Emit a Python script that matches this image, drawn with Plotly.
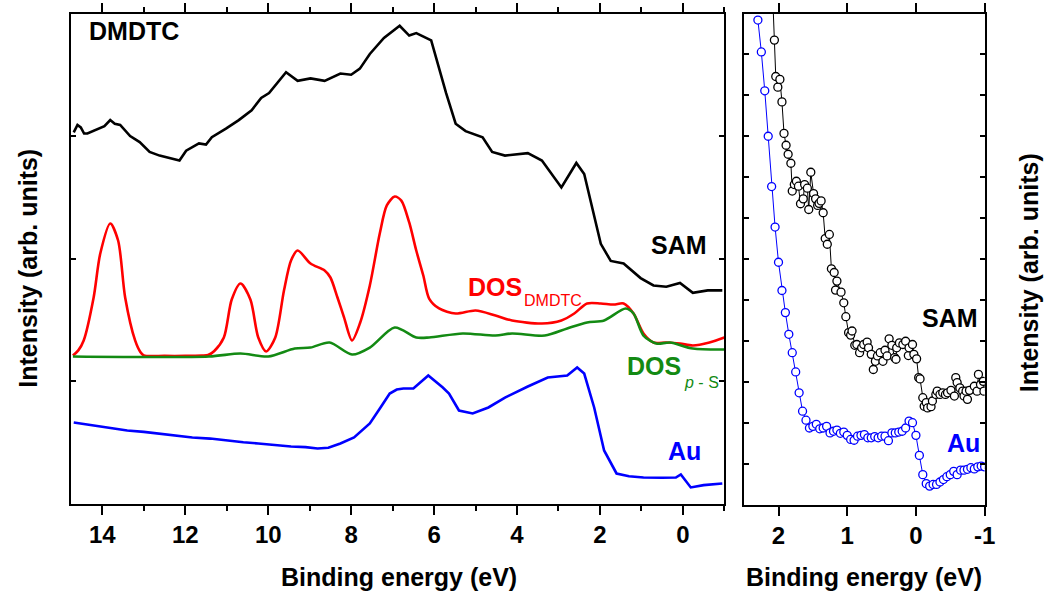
import plotly.graph_objects as go

# ---------------- Left panel data (binding energy in eV, intensity arb.) ----------------
sam_x = [14.69, 14.60, 14.52, 14.44, 14.36, 14.10, 13.95, 13.81, 13.70, 13.57, 13.33, 13.10, 12.86,
         12.62, 12.40, 12.14, 11.98, 11.67, 11.50, 11.36, 11.02, 10.71, 10.40, 10.17, 9.98, 9.83,
         9.57, 9.29, 8.98, 8.64, 8.26, 8.00, 7.79, 7.55, 7.21, 6.83, 6.60, 6.43, 6.25, 6.07, 5.71,
         5.48, 5.24, 4.83, 4.60, 4.29, 3.74, 3.40, 2.93, 2.57, 2.38, 1.98, 1.74, 1.43, 1.02, 0.71,
         0.40, 0.07, -0.24, -0.60, -0.95]
sam_y = [3.03, 3.09, 3.07, 3.02, 3.02, 3.06, 3.08, 3.13, 3.10, 3.09, 3.00, 2.95, 2.87,
         2.84, 2.82, 2.80, 2.88, 2.94, 2.93, 2.99, 3.06, 3.13, 3.21, 3.31, 3.35, 3.41,
         3.52, 3.45, 3.47, 3.45, 3.51, 3.50, 3.55, 3.67, 3.80, 3.90, 3.82, 3.84, 3.81, 3.78, 3.35,
         3.10, 3.04, 2.99, 2.87, 2.84, 2.86, 2.80, 2.58, 2.78, 2.69, 2.12, 1.98, 1.96, 1.84, 1.78,
         1.77, 1.80, 1.72, 1.74, 1.74]

dos_x = [14.71, 14.58, 14.45, 14.21, 14.05, 13.81, 13.62, 13.45, 13.21, 13.08, 13.00, 12.50,
         12.00, 11.60, 11.45, 11.30, 11.07, 10.88, 10.67, 10.43, 10.24, 10.05, 9.83, 9.62, 9.45,
         9.29, 8.98, 8.64, 8.50, 8.33, 8.17, 7.98, 7.79, 7.55, 7.31, 7.14, 6.95, 6.79, 6.60, 6.43,
         6.26, 6.12, 5.88, 5.48, 5.00, 4.52, 4.12, 3.40, 2.93, 2.62, 2.31, 1.98, 1.67, 1.43, 1.19,
         0.95, 0.71, 0.40, 0.07, -0.24, -0.64, -1.00]
dos_y = [1.208, 1.250, 1.331, 1.682, 2.041, 2.286, 2.147, 1.682, 1.331, 1.235, 1.208, 1.205,
         1.205, 1.208, 1.212, 1.245, 1.355, 1.665, 1.796, 1.665, 1.355, 1.241, 1.355, 1.739, 1.984,
         2.065, 1.959, 1.902, 1.845, 1.682, 1.518, 1.331, 1.469, 1.780, 2.204, 2.433, 2.506, 2.473, 2.294, 2.065,
         1.861, 1.673, 1.592, 1.551, 1.576, 1.535, 1.494, 1.469, 1.494, 1.551, 1.633, 1.633, 1.624, 1.633, 1.551,
         1.388, 1.314, 1.314, 1.306, 1.290, 1.314, 1.355]

dosp_x = [14.71, 11.43, 10.67, 10.00, 9.36, 8.98, 8.52, 7.98, 7.55, 6.95, 6.43, 6.12, 5.31,
          4.52, 4.12, 3.33, 2.79, 2.31, 1.90, 1.38, 1.19, 0.95, 0.64, 0.31, -0.24, -1.00]
dosp_y = [1.200, 1.200, 1.224, 1.200, 1.265, 1.273, 1.314, 1.216, 1.273, 1.437, 1.355, 1.355, 1.388,
          1.371, 1.388, 1.371, 1.429, 1.478, 1.494, 1.592, 1.551, 1.371, 1.306, 1.314, 1.265, 1.257]

au_x = [14.69, 14.45, 14.21, 13.80, 13.40, 13.00, 12.62, 12.20, 11.83, 11.40, 11.02, 10.60,
        10.24, 9.80, 9.45, 9.10, 8.81, 8.55, 8.26, 7.93, 7.55, 7.30, 7.07, 6.90, 6.74, 6.50,
        6.14, 5.79, 5.64, 5.40, 5.07, 4.69, 4.29, 3.74, 3.26, 2.79, 2.55, 2.38, 2.14, 1.90,
        1.60, 1.30, 0.95, 0.50, 0.17, 0.05, -0.19, -0.50, -0.95]
au_y = [0.661, 0.650, 0.637, 0.620, 0.596, 0.585, 0.571, 0.555, 0.539, 0.530, 0.514, 0.500,
        0.490, 0.475, 0.465, 0.460, 0.449, 0.455, 0.490, 0.539, 0.653, 0.780, 0.898, 0.930, 0.939, 0.939,
        1.045, 0.947, 0.898, 0.759, 0.735, 0.784, 0.865, 0.955, 1.029, 1.045, 1.110, 1.061, 0.784, 0.433,
        0.245, 0.222, 0.212, 0.210, 0.212, 0.237, 0.131, 0.150, 0.163]

# ---------------- Right panel data (zoom near Fermi level) ----------------
samz_x = [2.09, 2.06, 2.04, 2.01, 1.98, 1.95, 1.92, 1.89, 1.86, 1.82, 1.80, 1.77, 1.74, 1.71,
          1.68, 1.64, 1.62, 1.58, 1.56, 1.53, 1.49, 1.46, 1.43, 1.41, 1.38, 1.35, 1.32, 1.29,
          1.26, 1.23, 1.19, 1.17, 1.15, 1.09, 1.05, 1.02, 0.98, 0.95, 0.93, 0.89, 0.86, 0.82,
          0.79, 0.76, 0.71, 0.69, 0.65, 0.62, 0.59, 0.56, 0.52, 0.48, 0.45, 0.42, 0.39, 0.35,
          0.31, 0.29, 0.28, 0.24, 0.19, 0.15, 0.11, 0.10, 0.05, 0.03, -0.01, -0.04, -0.06,
          -0.10, -0.12, -0.15, -0.17, -0.22, -0.24, -0.29, -0.31, -0.35, -0.39, -0.43, -0.46,
          -0.51, -0.56, -0.58, -0.60, -0.64, -0.68, -0.70, -0.73, -0.75, -0.78, -0.85, -0.89,
          -0.91, -0.94, -0.98, -0.99]
samz_y = [12.66, 11.35, 10.46, 10.20, 10.39, 9.84, 9.07, 8.78, 8.56, 8.34, 7.66, 7.82, 7.90, 7.78,
          7.35, 7.47, 7.82, 7.73, 7.21, 8.12, 7.60, 7.47, 7.31, 7.36, 7.42, 7.13, 6.50, 6.36,
          6.60, 5.76, 5.67, 5.24, 5.46, 5.19, 4.93, 4.59, 4.20, 4.14, 4.24, 3.89, 3.91, 3.71,
          3.83, 3.91, 3.97, 3.83, 3.67, 3.30, 3.50, 3.63, 3.71, 3.50, 3.77, 3.63, 4.05, 3.89,
          3.59, 3.55, 3.83, 3.95, 3.91, 3.99, 3.64, 3.83, 3.91, 3.67, 3.56, 3.10, 3.07,
          2.61, 2.40, 2.49, 2.36, 2.39, 2.53, 2.69, 2.77, 2.69, 2.73, 2.69, 2.73,
          2.79, 2.65, 3.10, 2.98, 2.85, 2.77, 2.65, 2.77, 2.57, 2.79, 2.89, 2.77,
          3.18, 2.93, 3.01, 2.77]

auz_x = [2.30, 2.25, 2.20, 2.15, 2.10, 2.05, 2.00, 1.95, 1.90, 1.85, 1.80, 1.75, 1.70, 1.65,
         1.60, 1.55, 1.50, 1.45, 1.40, 1.35, 1.30, 1.25, 1.20, 1.15, 1.10, 1.05, 1.00, 0.95,
         0.90, 0.85, 0.80, 0.75, 0.70, 0.65, 0.60, 0.55, 0.50, 0.45, 0.40, 0.35, 0.30, 0.25,
         0.20, 0.15, 0.10, 0.05, 0.00, -0.05, -0.10, -0.15, -0.20, -0.25, -0.30, -0.35, -0.40,
         -0.45, -0.50, -0.55, -0.60, -0.65, -0.70, -0.75, -0.80, -0.85, -0.90, -0.95, -1.00]
auz_y = [11.84, 11.06, 10.11, 9.00, 7.77, 6.78, 5.92, 5.23, 4.69, 4.16, 3.71, 3.24, 2.73, 2.28,
         2.06, 1.87, 1.91, 1.96, 1.85, 1.87, 1.91, 1.75, 1.79, 1.82, 1.74, 1.77, 1.69, 1.59,
         1.57, 1.67, 1.69, 1.71, 1.63, 1.63, 1.66, 1.63, 1.67, 1.67, 1.56, 1.75, 1.75, 1.77,
         1.79, 1.87, 2.04, 2.00, 1.69, 1.20, 0.73, 0.51, 0.45, 0.49, 0.49, 0.55, 0.61,
         0.68, 0.73, 0.81, 0.73, 0.84, 0.84, 0.86, 0.90, 0.87, 0.92, 0.94, 0.92]

left_ticks = [14, 12, 10, 8, 6, 4, 2, 0]
left_ticktext = ["14", "12", "10", "8", "6", "4", "2", "0"]
right_ticks = [2, 1, 0, -1]
right_ticktext = ["2", "1", "0", "-1"]

FONT = "Liberation Sans, Arial, sans-serif"
W, H = 1055, 595

fig = go.Figure()
fig.add_trace(go.Scatter(x=sam_x, y=sam_y, mode="lines", line=dict(color="black", width=2.6),
                         xaxis="x", yaxis="y", showlegend=False))
fig.add_trace(go.Scatter(x=dos_x, y=dos_y, mode="lines",
                         line=dict(color="#ff0000", width=2.6, shape="spline", smoothing=0.8),
                         xaxis="x", yaxis="y", showlegend=False))
fig.add_trace(go.Scatter(x=dosp_x, y=dosp_y, mode="lines",
                         line=dict(color="#138a13", width=2.6, shape="spline", smoothing=0.8),
                         xaxis="x", yaxis="y", showlegend=False))
fig.add_trace(go.Scatter(x=au_x, y=au_y, mode="lines", line=dict(color="#0000ff", width=2.6),
                         xaxis="x", yaxis="y", showlegend=False))

fig.add_trace(go.Scatter(x=samz_x, y=samz_y, mode="lines+markers",
                         line=dict(color="black", width=1),
                         marker=dict(symbol="circle", size=8, color="white",
                                     line=dict(width=1.3, color="black")),
                         xaxis="x2", yaxis="y2", showlegend=False))
fig.add_trace(go.Scatter(x=auz_x, y=auz_y, mode="lines+markers",
                         line=dict(color="#0000ff", width=1),
                         marker=dict(symbol="circle", size=8, color="white",
                                     line=dict(width=1.3, color="#0000ff")),
                         xaxis="x2", yaxis="y2", showlegend=False))

ax_common = dict(showline=True, linecolor="black", linewidth=2, mirror="ticks", showgrid=False,
                 zeroline=False, ticks="outside", tickcolor="black", tickwidth=2,
                 tickfont=dict(family=FONT, size=24, color="black", weight="bold"))

fig.update_layout(
    width=W, height=H, margin=dict(l=0, r=0, t=0, b=0),
    paper_bgcolor="white", plot_bgcolor="white",
    xaxis=dict(ax_common, domain=[72 / W, 732 / W], range=[14.75, -1.0],
               tickvals=left_ticks, ticktext=left_ticktext, ticklen=9,
               minor=dict(dtick=1, tick0=0, ticklen=5, tickwidth=2, tickcolor="black", ticks="outside"),
               anchor="y"),
    yaxis=dict(showline=True, linecolor="black", linewidth=2, mirror="ticks", showgrid=False,
               zeroline=False, ticks="inside", ticklen=5, tickwidth=1.5, tickcolor="black",
               showticklabels=False, domain=[1 - 503.5 / H, 1 - 13.5 / H], range=[0, 4], dtick=1,
               anchor="x"),
    xaxis2=dict(ax_common, domain=[752 / W, 995 / W], range=[2.5, -1.0],
                tickvals=right_ticks, ticktext=right_ticktext, ticklen=9, anchor="y2"),
    yaxis2=dict(showline=True, linecolor="black", linewidth=2, mirror="ticks", showgrid=False,
                zeroline=False, ticks="inside", ticklen=5, tickwidth=1.5, tickcolor="black",
                showticklabels=False, domain=[1 - 504.5 / H, 1 - 13.5 / H], range=[0, 12], dtick=1,
                anchor="x2"),
)

def txt(px, py, s, size=25, color="black", bold=True, angle=0, xanchor="center"):
    fig.add_annotation(x=px / W, y=1 - py / H, xref="paper", yref="paper", text=s, showarrow=False,
                       xanchor=xanchor, yanchor="middle", textangle=angle,
                       font=dict(family=FONT, size=size, color=color,
                                 weight="bold" if bold else "normal"))

txt(88, 31, "DMDTC", xanchor="left")
txt(686, 245, "SAM")
txt(500, 287, "DOS", color="#ff0000")
txt(527, 300, "DMDTC", size=16, color="#ff0000", bold=False, xanchor="left")
txt(661, 366, "DOS", color="#138a13")
txt(689, 382, "<i>p</i> - S", size=16, color="#138a13", bold=False, xanchor="left")
txt(692, 451, "Au", color="#0000ff")
txt(960, 318, "SAM")
txt(974, 443, "Au", color="#0000ff")
txt(403, 577, "Binding energy (eV)")
txt(873, 577, "Binding energy (eV)")
txt(28, 268, "Intensity (arb. units)", angle=-90)
txt(1040, 273, "Intensity (arb. units)", angle=-90)

fig.write_html("out.html", config={"displayModeBar": False},
               post_script="document.body.style.margin='0';document.body.style.overflow='hidden';")
